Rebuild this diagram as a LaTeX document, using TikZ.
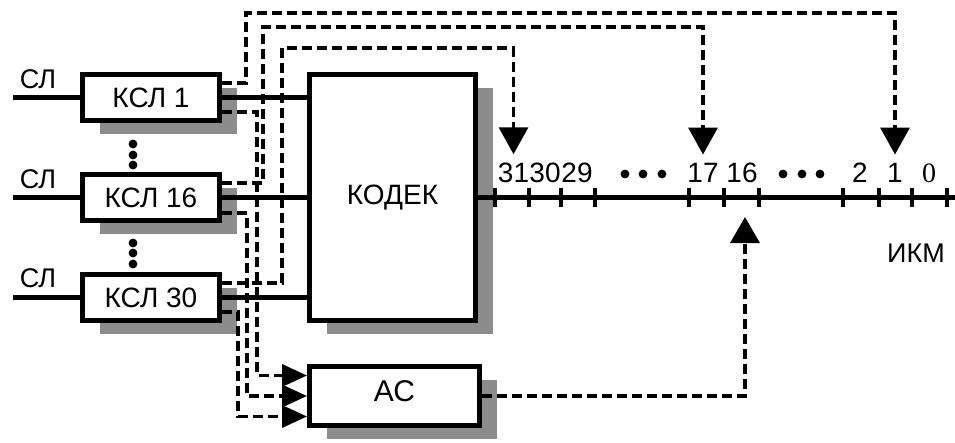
\documentclass[tikz,border=0pt]{standalone}
\usepackage{fontspec}
\setmainfont{Liberation Sans}
\newfontfamily\serifnum{Liberation Serif}
\usetikzlibrary{arrows.meta,shadows,calc}
\begin{document}
\begin{tikzpicture}[x=1pt,y=-1pt,
  box/.style={draw, line width=5pt, fill=white, inner sep=0pt,
    drop shadow={shadow xshift=17pt, shadow yshift=-13pt, fill=black!45, opacity=1}},
  kslbox/.style={box, minimum width=137pt, minimum height=46pt, font=\fontsize{28}{30}\selectfont},
  wire/.style={line width=5pt},
  dsh/.style={line width=3.4pt, dash pattern=on 10pt off 5pt},
  tickmark/.style={line width=4pt},
  lbl/.style={inner sep=0pt, anchor=base, font=\fontsize{28}{30}\selectfont},
  sllbl/.style={inner sep=0pt, font=\fontsize{27}{29}\selectfont},
  downarrow/.style={-{Triangle[length=27pt,width=29pt]}},
  inarrow/.style={-{Triangle[length=25pt,width=22pt]}},
  dotfill/.style={fill=black}
]
\useasboundingbox (0,0) rectangle (955,442);

% boxes
\node[kslbox] (k1) at (151,97.5) {КСЛ 1};
\node[kslbox] (k16) at (151,197.5) {КСЛ 16};
\node[kslbox] (k30) at (151,297.5) {КСЛ 30};
\node[box, minimum width=166pt, minimum height=246pt, font=\fontsize{28}{30}\selectfont] (kodek) at (392.5,197.5) {КОДЕК};
\node[box, minimum width=170pt, minimum height=59pt, font=\fontsize{30}{32}\selectfont, text depth=9pt] (ac) at (394.5,396) {АС};

% SL inputs
\coordinate (s1) at (13,97.5);
\coordinate (s16) at (13,197.5);
\coordinate (s30) at (13,297.5);
\draw[wire] (s1) -- (k1.west);
\draw[wire] (s16) -- (k16.west);
\draw[wire] (s30) -- (k30.west);
\node[sllbl] (sl1) at (38,79) {СЛ};
\node[sllbl] (sl16) at (38,179) {СЛ};
\node[sllbl] (sl30) at (38,278) {СЛ};

% vertical dots between KSL boxes
\foreach \yy in {144,155,165,243,253,264}
  \fill[dotfill] (133,\yy) circle (4.4pt);

% KSL -> KODEK
\draw[wire] (k1.east) -- (k1.east -| kodek.west);
\draw[wire] (k16.east) -- (k16.east -| kodek.west);
\draw[wire] (k30.east) -- (k30.east -| kodek.west);

% PCM line
\coordinate (pcmend) at (955,197.5);
\draw[wire] (kodek.east) -- (pcmend);
\foreach \xx in {495,529,561,595,689,724,759,843,879,912,947}
  \draw[tickmark] (\xx,188) -- (\xx,207);

% labels
\node[lbl] (n31) at (513.5,182) {31};
\node[lbl] (n30) at (545,182) {30};
\node[lbl] (n29) at (577,182) {29};
\node[lbl] (n17) at (703,182) {17};
\node[lbl] (n16) at (742,182) {16};
\node[lbl] (n2) at (860,182) {2};
\node[lbl] (n1) at (895,182) {1};
\node[lbl, font=\serifnum\fontsize{28}{30}\selectfont] (n0) at (929,182) {0};
\foreach \xx in {625,643,662,783,802,820}
  \fill[dotfill] (\xx,174) circle (4.4pt);
\node[inner sep=0pt, font=\fontsize{27}{30}\selectfont] (ikm) at (916,253) {ИКМ};

% dashed control lines to PCM channels
\draw[dsh, downarrow] ($(k1.east)+(0,-14.5)$) -- (246,83) -- (246,13) -| ([yshift=8pt]n1.north);
\draw[dsh, downarrow] ($(k16.east)+(0,-14.5)$) -- (263,183) -- (263,27) -| ([yshift=8pt]n17.north);
\draw[dsh, downarrow] ($(k30.east)+(0,-14.5)$) -- (282,283) -- (282,48) -| ([yshift=8pt]n31.north);

% dashed lines to AC
\draw[dsh, inarrow] ($(k1.east)+(0,14.5)$) -- ++(35,0) |- ([yshift=20.5pt]ac.west);
\draw[dsh, inarrow] ($(k16.east)+(0,15.5)$) -- ++(25,0) |- (ac.west);
\draw[dsh, inarrow] ($(k30.east)+(0,14.5)$) -- ++(16,0) |- ([yshift=-20.5pt]ac.west);

% AC -> channel 16
\coordinate (a16) at (745,217);
\draw[dsh, -{Triangle[length=26pt,width=29pt]}] (ac.east) -| (a16);
\end{tikzpicture}
\end{document}
